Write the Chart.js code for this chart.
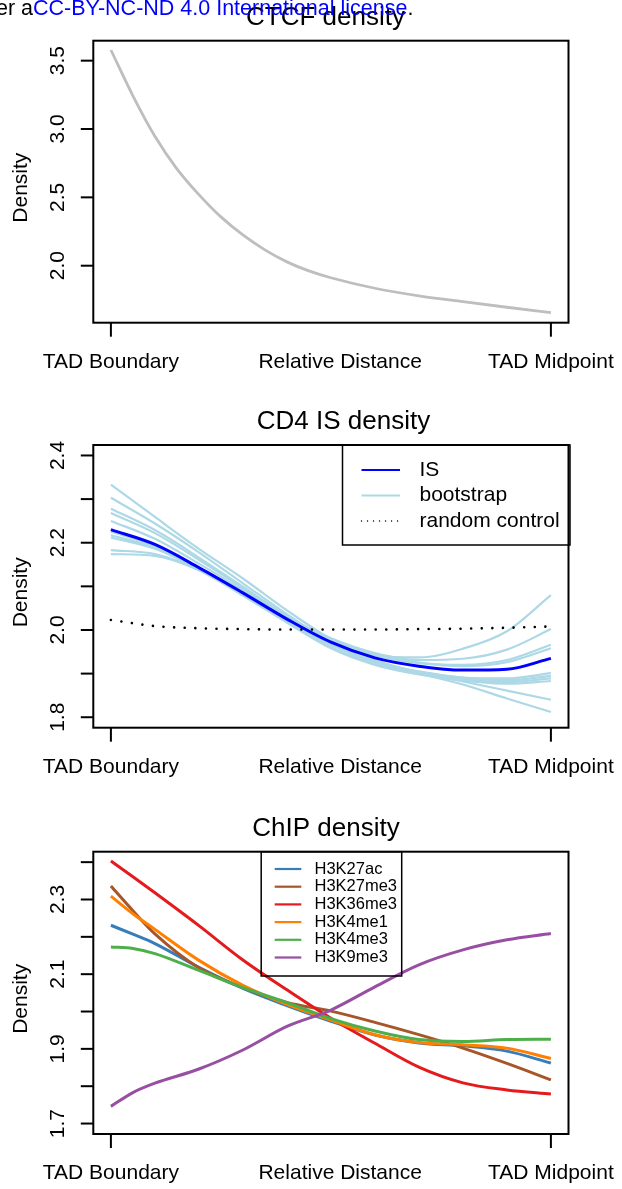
<!DOCTYPE html>
<html>
<head>
<meta charset="utf-8">
<title>TAD density profiles</title>
<script src="https://cdn.jsdelivr.net/npm/chart.js@4.4.1/dist/chart.umd.min.js"></script>
<style>
  html, body { margin: 0; padding: 0; background: #fff; }
  body { position: relative; width: 622px; height: 1189px; overflow: hidden; }
  canvas { position: absolute; left: 0; }
</style>
</head>
<body>
<canvas id="ctcf" width="622" height="400" style="top:0px"></canvas>
<canvas id="is" width="622" height="400" style="top:400px"></canvas>
<canvas id="chip" width="622" height="389" style="top:800px"></canvas>
<script>
// sample positions along the axis (0 = TAD boundary, 1 = TAD midpoint)
const gridPos = [0, 0.1, 0.2, 0.3, 0.4, 0.5, 0.6, 0.7, 0.8, 0.9, 1.0];
const ctcfPos = [0, 0.05, 0.1, 0.15, 0.2, 0.25, 0.3, 0.35, 0.4, 0.45, 0.5, 0.6, 0.7, 0.8, 0.9, 1.0];
const chipPos = [0, 0.05, 0.1, 0.2, 0.3, 0.4, 0.5, 0.6, 0.7, 0.8, 0.9, 1.0];

// x axis labels
const xLabels = ["TAD Boundary", "Relative Distance", "TAD Midpoint"];
const xLabelAt = [0, 0.521, 1];

// CTCF density
const ctcfDensity = [3.578, 3.243, 2.947, 2.709, 2.520, 2.357, 2.225, 2.116, 2.028, 1.962, 1.912, 1.835, 1.780, 1.737, 1.696, 1.656];
const ctcfTicks = [2.0, 2.5, 3.0, 3.5];

// CD4 IS density
const isDensity = [2.230, 2.196, 2.143, 2.085, 2.025, 1.972, 1.936, 1.917, 1.908, 1.910, 1.935];
const controlDensity = [2.023, 2.009, 2.004, 2.002, 2.001, 2.001, 2.001, 2.002, 2.003, 2.005, 2.008];
const boot1 = [2.333, 2.259, 2.186, 2.118, 2.045, 1.979, 1.931, 1.903, 1.882, 1.861, 1.840];
const boot2 = [2.303, 2.244, 2.178, 2.107, 2.036, 1.971, 1.927, 1.905, 1.891, 1.889, 1.901];
const boot3 = [2.278, 2.229, 2.166, 2.099, 2.032, 1.980, 1.944, 1.925, 1.917, 1.926, 1.958];
const boot4 = [2.268, 2.222, 2.161, 2.096, 2.031, 1.970, 1.922, 1.900, 1.875, 1.843, 1.812];
const boot5 = [2.250, 2.209, 2.152, 2.091, 2.028, 1.981, 1.947, 1.931, 1.934, 1.955, 2.002];
const boot6 = [2.225, 2.193, 2.142, 2.084, 2.022, 1.966, 1.927, 1.904, 1.890, 1.885, 1.895];
const boot7 = [2.217, 2.189, 2.141, 2.087, 2.029, 1.977, 1.942, 1.924, 1.920, 1.931, 1.966];
const boot8 = [2.212, 2.186, 2.139, 2.081, 2.019, 1.961, 1.922, 1.901, 1.887, 1.881, 1.889];
const boot9 = [2.183, 2.174, 2.138, 2.082, 2.021, 1.970, 1.942, 1.937, 1.957, 1.997, 2.080];
const boot10 = [2.174, 2.170, 2.137, 2.079, 2.017, 1.958, 1.920, 1.898, 1.884, 1.877, 1.883];
const isTicks = [1.8, 1.9, 2.0, 2.1, 2.2, 2.3, 2.4];
const isTickLabels = [1.8, 2.0, 2.2, 2.4];

// ChIP density
const chipMarks = ["H3K27ac", "H3K27me3", "H3K36me3", "H3K4me1", "H3K4me3", "H3K9me3"];
const h3k27ac = [2.231, 2.207, 2.182, 2.118, 2.062, 2.016, 1.974, 1.937, 1.916, 1.908, 1.894, 1.862];
const h3k27me3 = [2.336, 2.270, 2.208, 2.117, 2.064, 2.024, 2.001, 1.971, 1.938, 1.902, 1.861, 1.817];
const h3k36me3 = [2.403, 2.361, 2.318, 2.230, 2.138, 2.058, 1.982, 1.915, 1.851, 1.809, 1.790, 1.779];
const h3k4me1 = [2.309, 2.262, 2.220, 2.137, 2.070, 2.019, 1.977, 1.938, 1.917, 1.911, 1.902, 1.874];
const h3k4me3 = [2.173, 2.169, 2.155, 2.110, 2.064, 2.024, 1.981, 1.948, 1.925, 1.920, 1.925, 1.926];
const h3k9me3 = [1.746, 1.783, 1.808, 1.846, 1.897, 1.960, 2.004, 2.066, 2.125, 2.165, 2.192, 2.209];
const chipTicks = [1.7, 1.8, 1.9, 2.0, 2.1, 2.2, 2.3, 2.4];
const chipTickLabels = [1.7, 1.9, 2.1, 2.3];

const FONT = '"Liberation Sans", Arial, Helvetica, sans-serif';
const pts = (xs, ys) => ys.map((v, i) => ({ x: xs[i], y: v }));

// text helper, rotated text reads bottom to top like R's las=0
function txt(ctx, s, x, y, size, align, rotate, color) {
  ctx.save();
  ctx.font = size + "px " + FONT;
  ctx.fillStyle = color || "#000";
  ctx.textAlign = align;
  ctx.textBaseline = "alphabetic";
  ctx.translate(x, y);
  if (rotate) ctx.rotate(-Math.PI / 2);
  ctx.fillText(s, 0, 0);
  ctx.restore();
}

function seg(ctx, x1, y1, x2, y2) {
  ctx.beginPath();
  ctx.moveTo(x1, y1);
  ctx.lineTo(x2, y2);
  ctx.stroke();
}

// per panel decorations (R base graphics look)
const deco = {
  ctcf: { title: "CTCF density", titleX: 325.5, yTicks: ctcfTicks, yLabels: ctcfTicks, header: true },
  is: {
    title: "CD4 IS density", titleX: 343.5, yTicks: isTicks, yLabels: isTickLabels,
    legend: {
      left: 342.5, right: 570, bottom: 145, first: 25, step: 25.5,
      lineFrom: 361.5, lineTo: 400, textX: 419.5, size: 21,
      items: [
        { label: "IS", color: "#0000ff", width: 2 },
        { label: "bootstrap", color: "#add8e6", width: 2 },
        { label: "random control", color: "#000", width: 1.4, dash: [0.01, 6] }
      ]
    }
  },
  chip: {
    title: "ChIP density", titleX: 326, yTicks: chipTicks, yLabels: chipTickLabels,
    legend: {
      left: 261.2, right: 401.7, bottom: 176, first: 17.3, step: 17.7,
      lineFrom: 274.7, lineTo: 301.3, textX: 314.5, size: 16.5,
      items: [
        { label: chipMarks[0], color: "#377eb8", width: 2.2 },
        { label: chipMarks[1], color: "#a65628", width: 2.2 },
        { label: chipMarks[2], color: "#e41a1c", width: 2.2 },
        { label: chipMarks[3], color: "#ff7f00", width: 2.2 },
        { label: chipMarks[4], color: "#4daf4a", width: 2.2 },
        { label: chipMarks[5], color: "#984ea3", width: 2.2 }
      ]
    }
  }
};

const rFrame = {
  id: "rFrame",
  afterDraw(chart) {
    const d = deco[chart.canvas.id];
    const { ctx, chartArea: a } = chart;
    const xs = chart.scales.x, ys = chart.scales.y;
    ctx.save();
    ctx.strokeStyle = "#000";
    ctx.lineWidth = 2;
    ctx.strokeRect(a.left, a.top, a.right - a.left, a.bottom - a.top);

    // y axis ticks and labels
    d.yTicks.forEach(v => {
      const py = ys.getPixelForValue(v);
      seg(ctx, a.left, py, a.left - 12.5, py);
    });
    d.yLabels.forEach(v => {
      txt(ctx, v.toFixed(1), 63.5, ys.getPixelForValue(v), 21, "center", true);
    });
    txt(ctx, "Density", 27, (a.top + a.bottom) / 2 + 6, 21, "center", true);

    // x axis ticks at boundary and midpoint
    [0, 1].forEach(v => {
      const px = xs.getPixelForValue(v);
      seg(ctx, px, a.bottom, px, a.bottom + 14);
    });
    xLabels.forEach((s, i) => {
      txt(ctx, s, xs.getPixelForValue(xLabelAt[i]), a.bottom + 45, 21, "center", false);
    });

    txt(ctx, d.title, d.titleX, a.top - 15.7, 26, "center", false);

    if (d.legend) {
      const L = d.legend;
      ctx.lineWidth = 1.5;
      ctx.strokeRect(L.left, a.top, L.right - L.left, L.bottom - a.top);
      L.items.forEach((it, i) => {
        const yy = a.top + L.first + i * L.step;
        ctx.save();
        ctx.strokeStyle = it.color;
        ctx.lineWidth = it.width;
        if (it.dash) { ctx.setLineDash(it.dash); ctx.lineCap = "round"; }
        seg(ctx, L.lineFrom, yy, L.lineTo, yy);
        ctx.restore();
        ctx.save();
        ctx.font = L.size + "px " + FONT;
        ctx.fillStyle = "#000";
        ctx.textAlign = "left";
        ctx.textBaseline = "middle";
        ctx.fillText(it.label, L.textX, yy);
        ctx.restore();
      });
    }

    if (d.header) {
      txt(ctx, "under a", 33, 15, 21.5, "right", false);
      ctx.font = "21.5px " + FONT;
      const w = ctx.measureText("CC-BY-NC-ND 4.0 International license").width;
      txt(ctx, "CC-BY-NC-ND 4.0 International license", 33, 15, 21.5, "left", false, "#0000ff");
      txt(ctx, ".", 33 + w, 15, 21.5, "left", false);
    }
    ctx.restore();
  }
};

function makePanel(id, datasets, yMin, yMax, pad) {
  return new Chart(document.getElementById(id), {
    type: "line",
    data: { datasets },
    options: {
      responsive: false,
      animation: false,
      events: [],
      layout: { padding: pad },
      elements: { point: { radius: 0 }, line: { cubicInterpolationMode: "monotone", fill: false } },
      plugins: { legend: { display: false }, title: { display: false }, tooltip: { enabled: false } },
      scales: {
        x: { type: "linear", display: false, min: -0.04, max: 1.04 },
        y: { type: "linear", display: false, min: yMin, max: yMax }
      }
    },
    plugins: [rFrame]
  });
}

makePanel("ctcf", [
  { label: "CTCF", data: pts(ctcfPos, ctcfDensity), borderColor: "#bebebe", borderWidth: 2.8 }
], 1.583, 3.646, { left: 93.3, right: 53.5, top: 40.7, bottom: 77.3 });

const bootstraps = [boot1, boot2, boot3, boot4, boot5, boot6, boot7, boot8, boot9, boot10];
makePanel("is", [
  { label: "random control", data: pts(gridPos, controlDensity), borderColor: "#000", borderWidth: 2.6,
    borderDash: [0.01, 10.6], borderCapStyle: "round" },
  { label: "IS", data: pts(gridPos, isDensity), borderColor: "#0000ff", borderWidth: 3 }
].concat(bootstraps.map(b => ({ label: "bootstrap", data: pts(gridPos, b), borderColor: "#add8e6", borderWidth: 2.2 }))),
  1.776, 2.424, { left: 93.3, right: 53.5, top: 45, bottom: 72.3 });

// drawn last-to-first, so reversed to keep H3K9me3 on top
const chipSeries = [h3k27ac, h3k27me3, h3k36me3, h3k4me1, h3k4me3, h3k9me3];
const chipColors = ["#377eb8", "#a65628", "#e41a1c", "#ff7f00", "#4daf4a", "#984ea3"];
makePanel("chip", chipSeries.map((s, i) => ({
  label: chipMarks[i], data: pts(chipPos, s), borderColor: chipColors[i], borderWidth: 3
})).reverse(), 1.672, 2.428, { left: 93.3, right: 53.5, top: 51.7, bottom: 55 });
</script>
</body>
</html>
